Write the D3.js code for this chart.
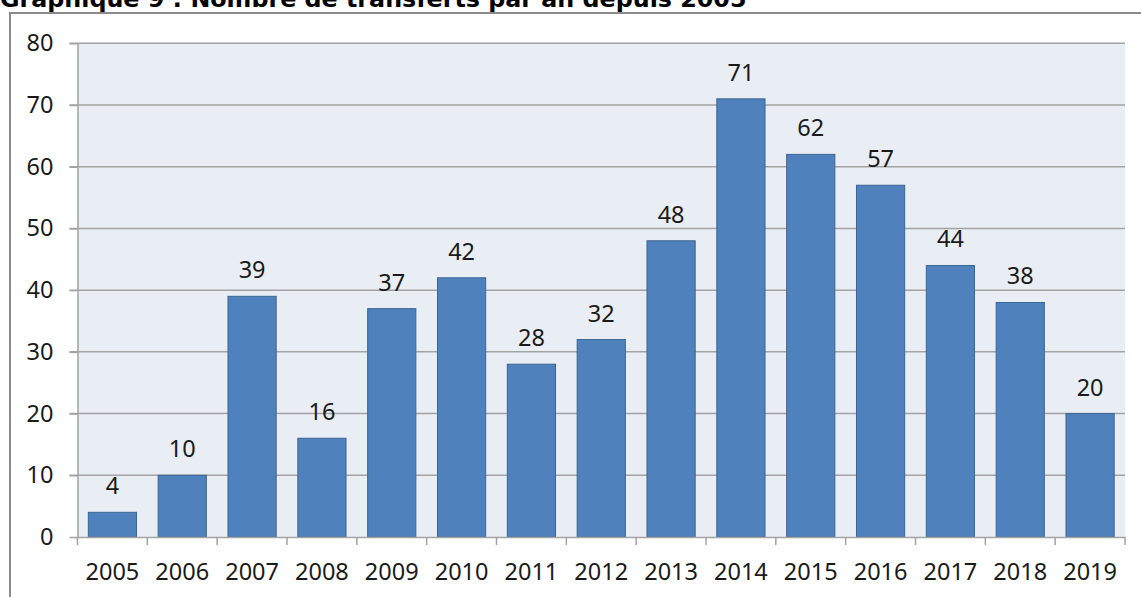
<!DOCTYPE html>
<html><head><meta charset="utf-8">
<script src="https://cdn.jsdelivr.net/npm/d3@7"></script>
<style>body{margin:0;background:#fff;} svg{display:block;}</style>
</head><body>
<svg id="c" width="1141" height="597"></svg>
<script>
const years = ["2005","2006","2007","2008","2009","2010","2011","2012","2013","2014","2015","2016","2017","2018","2019"];
const transfers = [4,10,39,16,37,42,28,32,48,71,62,57,44,38,20];
const yTicks = [0,10,20,30,40,50,60,70,80];
const title = "Graphique 9 : Nombre de transferts par an depuis 2005";

(function(){
const svg = d3.select("#c");
const pL = 77.5, pR = 1125, pT = 43.3, pB = 537;
const font = "'Noto Sans', 'DejaVu Sans', sans-serif";
const fs = 23.5;

// outer frame
svg.append("rect").attr("x", 10).attr("y", 13).attr("width", 1141).attr("height", 600)
  .attr("fill", "none").attr("stroke", "#8a8a8a").attr("stroke-width", 2);

// title
const t = svg.append("text").attr("x", 0).attr("y", 7)
  .attr("font-family", "'DejaVu Sans', Verdana, sans-serif").attr("font-weight", "bold")
  .attr("font-size", 20).attr("fill", "#000").text(title);
const w = t.node().getComputedTextLength();
t.attr("font-size", 20 * 747 / w);

const x = d3.scaleBand().domain(years).range([pL, pR]).paddingInner(0.31).paddingOuter(0.155);
const xb = d3.scaleBand().domain(years).range([pL, pR]);
const y = d3.scaleLinear().domain([0, 80]).range([pB, pT]);

// plot bg
svg.append("rect").attr("x", pL).attr("y", pT).attr("width", pR - pL).attr("height", pB - pT)
  .attr("fill", "#e9edf4");

// gridlines
svg.append("g").selectAll("line").data(yTicks.filter(d => d > 0)).join("line")
  .attr("x1", pL - 8).attr("x2", pR).attr("y1", d => y(d)).attr("y2", d => y(d))
  .attr("stroke", "#a3a3a3").attr("stroke-width", 1.5);

// bars
svg.append("g").selectAll("rect").data(transfers).join("rect")
  .attr("x", (d, i) => x(years[i])).attr("width", x.bandwidth())
  .attr("y", d => y(d)).attr("height", d => pB - y(d))
  .attr("fill", "#4f81bd").attr("stroke", "#3b6593").attr("stroke-width", 1);

// value labels
svg.append("g").selectAll("text").data(transfers).join("text")
  .attr("x", (d, i) => x(years[i]) + x.bandwidth() / 2).attr("y", d => y(d) - 18)
  .attr("text-anchor", "middle").attr("font-family", font).attr("font-size", fs)
  .attr("fill", "#1a1a1a").text(d => d);

// y axis
const ya = svg.append("g").attr("transform", `translate(${pL},0)`)
  .call(d3.axisLeft(y).tickValues(yTicks).tickSize(8).tickPadding(16).tickSizeOuter(0));
ya.select(".domain").attr("stroke", "#a3a3a3").attr("stroke-width", 1.5);
ya.selectAll(".tick line").attr("stroke", "#a3a3a3").attr("stroke-width", 1.5);
ya.selectAll("text").attr("font-family", font).attr("font-size", fs).attr("fill", "#1a1a1a");

// x axis
const xa = svg.append("g").attr("transform", `translate(0,${pB})`)
  .call(d3.axisBottom(xb).tickSize(0).tickPadding(26));
xa.select(".domain").attr("stroke", "#a3a3a3").attr("stroke-width", 1.5);
xa.selectAll("text").attr("font-family", font).attr("font-size", fs).attr("fill", "#1a1a1a");
const bounds = years.map(v => xb(v)).concat([pR]);
svg.append("g").selectAll("line").data(bounds).join("line")
  .attr("x1", d => d).attr("x2", d => d).attr("y1", pB).attr("y2", pB + 8)
  .attr("stroke", "#a3a3a3").attr("stroke-width", 1.5);
})();
</script>
</body></html>
